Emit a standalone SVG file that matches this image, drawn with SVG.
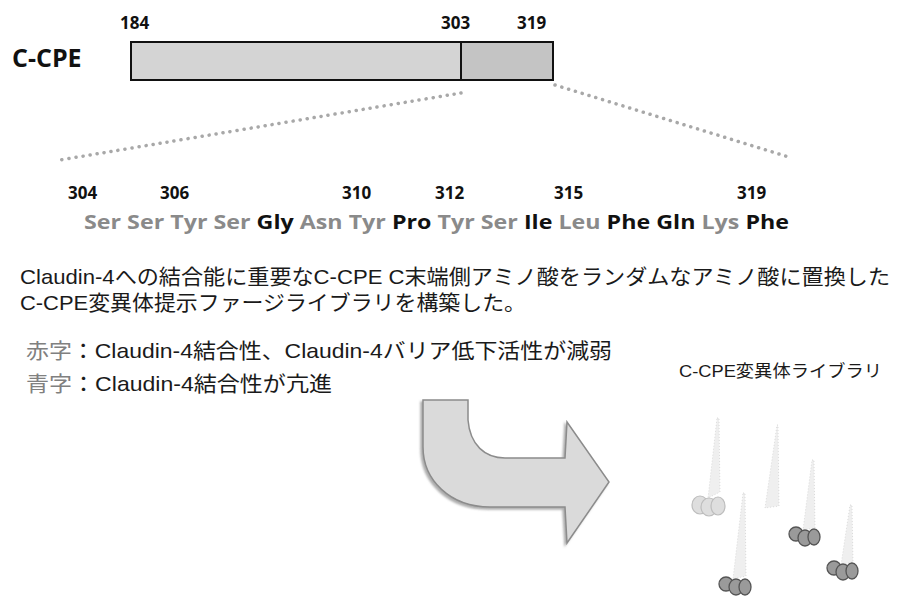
<svg xmlns="http://www.w3.org/2000/svg" width="912" height="596" viewBox="0 0 912 596">
  <defs>
    <style>
      .num { font-family: "Open Sans", "Liberation Sans", sans-serif; font-weight: bold; font-size: 17px; fill: #111; }
      .seq { font-family: "Open Sans", "Liberation Sans", sans-serif; font-weight: bold; font-size: 19px; }
      .g { fill: #8a8a8a; }
      .k { fill: #111; }
      .jp { font-family: "Liberation Sans", "Noto Sans CJK JP", sans-serif; font-size: 21px; fill: #1a1a1a; }
      .mark { fill: #808080; }
      .dots { fill: none; stroke: #a8a8a8; stroke-width: 3.5; stroke-dasharray: 0.1 7; stroke-linecap: round; }
      .tail { fill: #efefef; stroke: #c8c8c8; stroke-width: 0.6; stroke-dasharray: 1 2; }
      .head-light { fill: #dedede; stroke: #bdbdbd; stroke-width: 1.2; }
      .head-dark { fill: #9a9a9a; stroke: #555; stroke-width: 1.3; }
    </style>
    <filter id="shadow" x="-10%" y="-10%" width="130%" height="130%">
      <feDropShadow dx="-2" dy="2" stdDeviation="1.2" flood-color="#777" flood-opacity="0.6"/>
    </filter>
  </defs>

  <!-- protein bar -->
  <g id="ccpe-bar">
    <text x="12" y="67" font-family="'Open Sans', 'Liberation Sans', sans-serif" font-weight="bold" font-size="25" fill="#111">C-CPE</text>
    <rect x="131" y="42" width="330" height="38" fill="#d4d4d4" stroke="#111" stroke-width="2"/>
    <rect x="461" y="42" width="92" height="38" fill="#c4c4c4" stroke="#111" stroke-width="2"/>
    <text class="num" x="120" y="29">184</text>
    <text class="num" x="441" y="29">303</text>
    <text class="num" x="517" y="29">319</text>
  </g>

  <!-- zoom-out guide lines -->
  <g id="connectors">
    <path class="dots" d="M461,93 Q300,120 60,160"/>
    <path class="dots" d="M555,85 L792,158"/>
  </g>

  <!-- residue numbering and sequence -->
  <g id="sequence">
    <text class="num" x="68" y="199">304</text>
    <text class="num" x="160" y="199">306</text>
    <text class="num" x="342" y="199">310</text>
    <text class="num" x="435" y="199">312</text>
    <text class="num" x="554" y="199">315</text>
    <text class="num" x="737" y="199">319</text>
    <text class="seq" x="84" y="229" textLength="705" lengthAdjust="spacingAndGlyphs"><tspan class="g">Ser Ser Tyr Ser </tspan><tspan class="k">Gly </tspan><tspan class="g">Asn Tyr </tspan><tspan class="k">Pro </tspan><tspan class="g">Tyr Ser </tspan><tspan class="k">Ile </tspan><tspan class="g">Leu </tspan><tspan class="k">Phe Gln </tspan><tspan class="g">Lys </tspan><tspan class="k">Phe</tspan></text>
  </g>

  <!-- description -->
  <g id="description">
    <text class="jp" x="20" y="284" textLength="870" lengthAdjust="spacingAndGlyphs">Claudin-4への結合能に重要なC-CPE C末端側アミノ酸をランダムなアミノ酸に置換した</text>
    <text class="jp" x="20" y="310" textLength="506" lengthAdjust="spacingAndGlyphs">C-CPE変異体提示ファージライブラリを構築した。</text>
    <text class="jp" x="26" y="358" textLength="586" lengthAdjust="spacingAndGlyphs"><tspan class="mark">赤字</tspan>：Claudin-4結合性、Claudin-4バリア低下活性が減弱</text>
    <text class="jp" x="26" y="391" textLength="306" lengthAdjust="spacingAndGlyphs"><tspan class="mark">青字</tspan>：Claudin-4結合性が亢進</text>
  </g>

  <!-- curved arrow -->
  <g id="arrow">
    <path d="M423,400 L468,400 L468,420 C470,445 485,458 505,458 L565,458 L567,422 L609,482 L567,543 L565,507 L490,507 C450,507 423,480 423,447 Z" fill="#dadada" stroke="#8c8c8c" stroke-width="1.5" filter="url(#shadow)"/>
  </g>

  <!-- phage library -->
  <g id="library">
    <text x="679" y="377" font-family="'Liberation Sans', 'Noto Sans CJK JP', sans-serif" font-size="17" fill="#1a1a1a" textLength="203" lengthAdjust="spacingAndGlyphs">C-CPE変異体ライブラリ</text>

    <g id="phage1">
      <path class="tail" d="M717,418 L719,418 L720,492 L708,498 Z"/>
      <ellipse class="head-light" cx="700" cy="505" rx="8" ry="9"/>
      <ellipse class="head-light" cx="709" cy="507" rx="8" ry="9"/>
      <ellipse class="head-light" cx="718" cy="506" rx="7" ry="9"/>
    </g>
    <g id="phage2">
      <path class="tail" d="M777,425 L778,425 L779,506 L765,508 Z"/>
    </g>
    <g id="phage3">
      <path class="tail" d="M812,460 L814,460 L815,528 L803,530 Z"/>
      <ellipse class="head-dark" cx="796" cy="534" rx="7" ry="7"/>
      <ellipse class="head-dark" cx="805" cy="538" rx="7" ry="8"/>
      <ellipse class="head-dark" cx="814" cy="537" rx="6" ry="8"/>
    </g>
    <g id="phage4">
      <path class="tail" d="M743,493 L745,493 L746,576 L733,579 Z"/>
      <ellipse class="head-dark" cx="726" cy="584" rx="7" ry="7"/>
      <ellipse class="head-dark" cx="736" cy="587" rx="7" ry="8"/>
      <ellipse class="head-dark" cx="745" cy="587" rx="6" ry="8"/>
    </g>
    <g id="phage5">
      <path class="tail" d="M850,505 L852,505 L853,562 L841,565 Z"/>
      <ellipse class="head-dark" cx="834" cy="568" rx="7" ry="7"/>
      <ellipse class="head-dark" cx="843" cy="572" rx="7" ry="8"/>
      <ellipse class="head-dark" cx="852" cy="571" rx="6" ry="8"/>
    </g>
  </g>
</svg>
